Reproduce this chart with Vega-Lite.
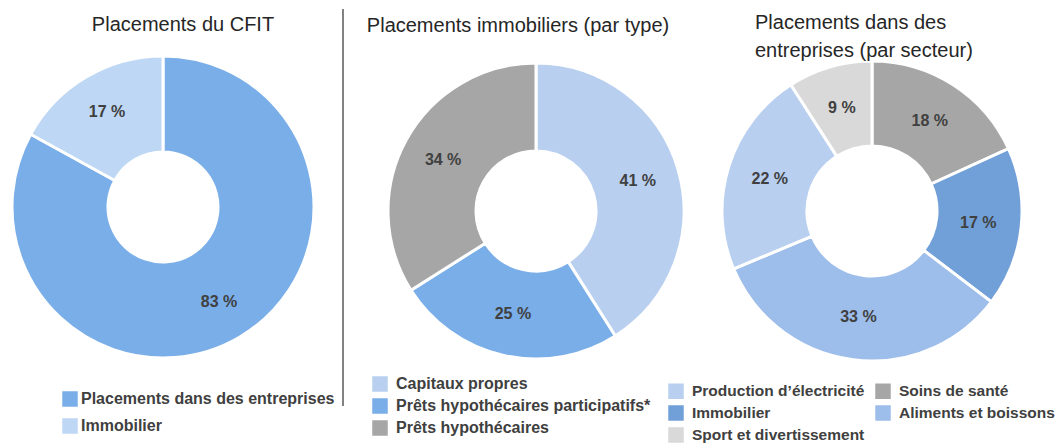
{
  "$schema": "https://vega.github.io/schema/vega-lite/v6.json",
  "background": "white",
  "autosize": {"type": "pad"},
  "padding": {"left": 0, "top": 8, "right": 0, "bottom": 0},
  "spacing": 0,
  "bounds": "flush",
  "resolve": {"scale": {"color": "independent", "theta": "independent"}, "legend": {"color": "independent"}},
  "config": {
    "view": {"stroke": null},
    "title": {"font": "Liberation Sans", "fontSize": 20, "fontWeight": "normal", "color": "#262626", "frame": "group"},
    "legend": {
      "title": null,
      "symbolType": "square",
      "symbolSize": 240,
      "symbolStrokeWidth": 0,
      "labelFont": "Liberation Sans",
      "labelFontSize": 16,
      "labelFontWeight": "bold",
      "labelColor": "#404040",
      "labelLimit": 400,
      "padding": 0
    }
  },
  "hconcat": [
    {
      "width": 326,
      "height": 288,
      "title": {"text": "Placements du CFIT", "anchor": "middle", "dx": 20, "offset": 15},
      "data": {"values": [
        {"cat": "Placements dans des entreprises", "v": 83, "o": 1, "lab": "83 %"},
        {"cat": "Immobilier", "v": 17, "o": 2, "lab": "17 %"}
      ]},
      "layer": [
        {
          "mark": {"type": "arc", "outerRadius": 151, "innerRadius": 55, "stroke": "white", "strokeWidth": 3},
          "encoding": {
            "theta": {"field": "v", "type": "quantitative", "stack": true},
            "order": {"field": "o", "type": "quantitative"},
            "color": {
              "field": "cat", "type": "nominal",
              "scale": {"domain": ["Placements dans des entreprises", "Immobilier"], "range": ["#7aaee8", "#bdd7f4"]},
              "legend": {"orient": "none", "legendX": 62, "legendY": 328, "direction": "vertical", "rowPadding": 11, "labelOffset": 3}
            }
          }
        },
        {
          "mark": {"type": "text", "radius": 110, "font": "Liberation Sans", "fontSize": 16, "fontWeight": "bold", "fill": "#404040"},
          "encoding": {
            "theta": {"field": "v", "type": "quantitative", "stack": true},
            "order": {"field": "o", "type": "quantitative"},
            "text": {"field": "lab"}
          }
        }
      ]
    },
    {
      "width": 1,
      "height": 296,
      "data": {"values": [{}]},
      "mark": {"type": "rule", "stroke": "#595959", "strokeWidth": 1.5},
      "encoding": {"x": {"value": 17}, "y": {"value": -54}, "y2": {"value": 343}}
    },
    {
      "width": 418,
      "height": 296,
      "title": {"text": "Placements immobiliers (par type)", "anchor": "middle", "dx": -18, "offset": 21},
      "data": {"values": [
        {"cat": "Capitaux propres", "v": 41, "o": 1, "lab": "41 %"},
        {"cat": "Prêts hypothécaires participatifs*", "v": 25, "o": 2, "lab": "25 %"},
        {"cat": "Prêts hypothécaires", "v": 34, "o": 3, "lab": "34 %"}
      ]},
      "layer": [
        {
          "mark": {"type": "arc", "outerRadius": 148, "innerRadius": 60, "stroke": "white", "strokeWidth": 3},
          "encoding": {
            "theta": {"field": "v", "type": "quantitative", "stack": true},
            "order": {"field": "o", "type": "quantitative"},
            "color": {
              "field": "cat", "type": "nominal",
              "scale": {"domain": ["Capitaux propres", "Prêts hypothécaires participatifs*", "Prêts hypothécaires"], "range": ["#b8cff0", "#7aaee8", "#a6a6a6"]},
              "legend": {"orient": "none", "legendX": 45, "legendY": 313, "direction": "vertical", "rowPadding": 6, "labelOffset": 8}
            }
          }
        },
        {
          "mark": {"type": "text", "radius": 106, "font": "Liberation Sans", "fontSize": 16, "fontWeight": "bold", "fill": "#404040"},
          "encoding": {
            "theta": {"field": "v", "type": "quantitative", "stack": true},
            "order": {"field": "o", "type": "quantitative"},
            "text": {"field": "lab"}
          }
        }
      ]
    },
    {
      "width": 254,
      "height": 296,
      "title": {"text": ["Placements dans des", "entreprises (par secteur)"], "anchor": "start", "dx": 10, "offset": -6, "lineHeight": 28},
      "data": {"values": [
        {"cat": "Soins de santé", "v": 18, "o": 1, "lab": "18 %"},
        {"cat": "Immobilier", "v": 17, "o": 2, "lab": "17 %"},
        {"cat": "Aliments et boissons", "v": 33, "o": 3, "lab": "33 %"},
        {"cat": "Production d’électricité", "v": 22, "o": 4, "lab": "22 %"},
        {"cat": "Sport et divertissement", "v": 9, "o": 5, "lab": "9 %"}
      ]},
      "layer": [
        {
          "mark": {"type": "arc", "outerRadius": 150, "innerRadius": 65, "stroke": "white", "strokeWidth": 3},
          "encoding": {
            "theta": {"field": "v", "type": "quantitative", "stack": true},
            "order": {"field": "o", "type": "quantitative"},
            "color": {
              "field": "cat", "type": "nominal",
              "scale": {
                "domain": ["Production d’électricité", "Immobilier", "Sport et divertissement", "Soins de santé", "Aliments et boissons"],
                "range": ["#b8cff0", "#71a0d9", "#d9d9d9", "#a6a6a6", "#9dbdea"]
              },
              "legend": {"orient": "none", "legendX": -77, "legendY": 320, "direction": "vertical", "columns": 2, "columnPadding": 10, "rowPadding": 5, "labelOffset": 8, "labelFontSize": 15.5}
            }
          }
        },
        {
          "mark": {"type": "text", "radius": 107, "font": "Liberation Sans", "fontSize": 16, "fontWeight": "bold", "fill": "#404040"},
          "encoding": {
            "theta": {"field": "v", "type": "quantitative", "stack": true},
            "order": {"field": "o", "type": "quantitative"},
            "text": {"field": "lab"}
          }
        }
      ]
    }
  ]
}
